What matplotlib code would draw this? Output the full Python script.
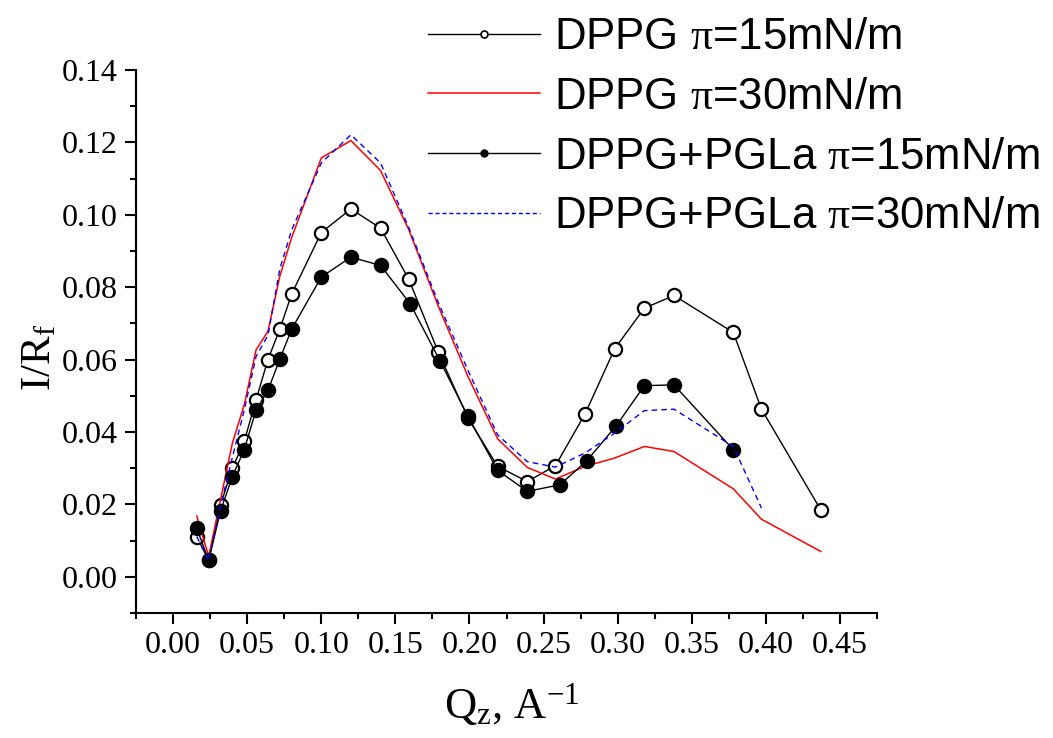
import matplotlib
matplotlib.use("Agg")
import matplotlib.pyplot as plt
from matplotlib.lines import Line2D
from matplotlib.ticker import MultipleLocator, FormatStrFormatter

plt.rcParams['mathtext.fontset'] = 'custom'
plt.rcParams['mathtext.rm'] = 'Liberation Serif'
plt.rcParams['mathtext.it'] = 'Liberation Serif:italic'

# DPPG, pi = 15 mN/m (open circles)
q_dppg15 = [0.016, 0.024, 0.032, 0.040, 0.048, 0.056, 0.064, 0.072, 0.080, 0.100,
            0.120, 0.140, 0.159, 0.179, 0.199, 0.219, 0.239, 0.258, 0.278, 0.298,
            0.318, 0.338, 0.378, 0.397, 0.437]
i_dppg15 = [0.0111, 0.0045, 0.0199, 0.0300, 0.0374, 0.0489, 0.0600, 0.0684, 0.0781, 0.0951,
            0.1016, 0.0963, 0.0822, 0.0620, 0.0438, 0.0305, 0.0263, 0.0307, 0.0450, 0.0630,
            0.0742, 0.0777, 0.0675, 0.0463, 0.0185]

# DPPG, pi = 30 mN/m (red line)
q_dppg30 = [0.016, 0.024, 0.032, 0.040, 0.048, 0.056, 0.064, 0.072, 0.080, 0.100,
            0.120, 0.140, 0.159, 0.179, 0.199, 0.219, 0.239, 0.258, 0.278, 0.298,
            0.318, 0.338, 0.378, 0.397, 0.437]
i_dppg30 = [0.0168, 0.0056, 0.0213, 0.0369, 0.0475, 0.0627, 0.0678, 0.0830, 0.0937, 0.1157,
            0.1205, 0.1122, 0.0959, 0.0747, 0.0553, 0.0381, 0.0302, 0.0270, 0.0305, 0.0328,
            0.0360, 0.0346, 0.0243, 0.0159, 0.0070]

# DPPG+PGLa, pi = 15 mN/m (filled circles)
q_pgla15 = [0.016, 0.024, 0.032, 0.040, 0.048, 0.056, 0.064, 0.072, 0.080, 0.100,
            0.120, 0.140, 0.160, 0.180, 0.199, 0.219, 0.239, 0.261, 0.279, 0.299,
            0.318, 0.338, 0.378]
i_pgla15 = [0.0134, 0.0045, 0.0182, 0.0277, 0.0351, 0.0461, 0.0515, 0.0601, 0.0684, 0.0828,
            0.0883, 0.0860, 0.0754, 0.0597, 0.0443, 0.0294, 0.0236, 0.0254, 0.0320, 0.0417,
            0.0528, 0.0530, 0.0351]

# DPPG+PGLa, pi = 30 mN/m (blue dashed)
q_pgla30 = [0.016, 0.024, 0.032, 0.040, 0.048, 0.056, 0.064, 0.072, 0.080, 0.100,
            0.120, 0.140, 0.159, 0.179, 0.199, 0.219, 0.239, 0.258, 0.278, 0.298,
            0.318, 0.338, 0.378, 0.397]
i_pgla30 = [0.0111, 0.0045, 0.0195, 0.0330, 0.0460, 0.0609, 0.0667, 0.0850, 0.0958, 0.1143,
            0.1221, 0.1143, 0.0965, 0.0757, 0.0570, 0.0392, 0.0318, 0.0303, 0.0342, 0.0397,
            0.0459, 0.0463, 0.0360, 0.0190]

labels = ['DPPG $\\mathrm{\\pi}$=15mN/m', 'DPPG $\\mathrm{\\pi}$=30mN/m',
          'DPPG+PGLa $\\mathrm{\\pi}$=15mN/m', 'DPPG+PGLa $\\mathrm{\\pi}$=30mN/m']

fig = plt.figure(figsize=(10.53, 7.38), dpi=100)
ax = fig.add_axes([0.1292, 0.1694, 0.7037, 0.7358])

ax.plot(q_dppg15, i_dppg15, '-o', color='black', lw=1.0, ms=9.5,
        mfc='white', mec='black', mew=1.6)
ax.plot(q_dppg30, i_dppg30, '-', color='#ff0000', lw=1.1)
ax.plot(q_pgla15, i_pgla15, '-o', color='black', lw=1.0, ms=9.5,
        mfc='black', mec='black', mew=1.6)
ax.plot(q_pgla30, i_pgla30, '--', color='#0000ff', lw=1.0, dashes=(4, 3))

ax.set_xlim(-0.025, 0.475)
ax.set_ylim(-0.01, 0.14)

for side in ['top', 'right']:
    ax.spines[side].set_visible(False)
for side in ['left', 'bottom']:
    ax.spines[side].set_linewidth(1.5)

ax.xaxis.set_major_locator(MultipleLocator(0.05))
ax.xaxis.set_minor_locator(MultipleLocator(0.025))
ax.yaxis.set_major_locator(MultipleLocator(0.02))
ax.yaxis.set_minor_locator(MultipleLocator(0.01))
ax.xaxis.set_major_formatter(FormatStrFormatter('%.2f'))
ax.yaxis.set_major_formatter(FormatStrFormatter('%.2f'))
ax.tick_params(which='major', direction='out', length=8, width=1.5, pad=5)
ax.tick_params(which='minor', direction='out', length=4.5, width=1.5)
for lab in ax.get_xticklabels() + ax.get_yticklabels():
    lab.set_fontfamily('Liberation Serif')
    lab.set_fontsize(23)

ax.set_xlabel('Q$_\\mathrm{z}$, A$^\\mathrm{-1}$', fontfamily='Liberation Serif', fontsize=32)
ax.xaxis.set_label_coords(0.507, -0.125)
ax.set_ylabel('I/R$_\\mathrm{f}$', fontfamily='Liberation Serif', fontsize=31)
ax.yaxis.set_label_coords(-0.103, 0.47)

handles = [
    Line2D([], [], color='black', lw=1.0, marker='o', ms=5, mfc='white', mec='black', mew=1.2),
    Line2D([], [], color='#ff0000', lw=1.1),
    Line2D([], [], color='black', lw=1.0, marker='o', ms=5, mfc='black', mec='black'),
    Line2D([], [], color='#0000ff', lw=1.0, ls='--', dashes=(3, 2)),
]
fig.legend(handles, labels, loc='upper left', bbox_to_anchor=(428 / 1053, 0.977),
           frameon=False, borderpad=0, borderaxespad=0, handlelength=2.57,
           handletextpad=0.3, labelspacing=0.43,
           prop={'family': 'Liberation Sans', 'size': 31.5})

fig.savefig('out.png', dpi=100)
